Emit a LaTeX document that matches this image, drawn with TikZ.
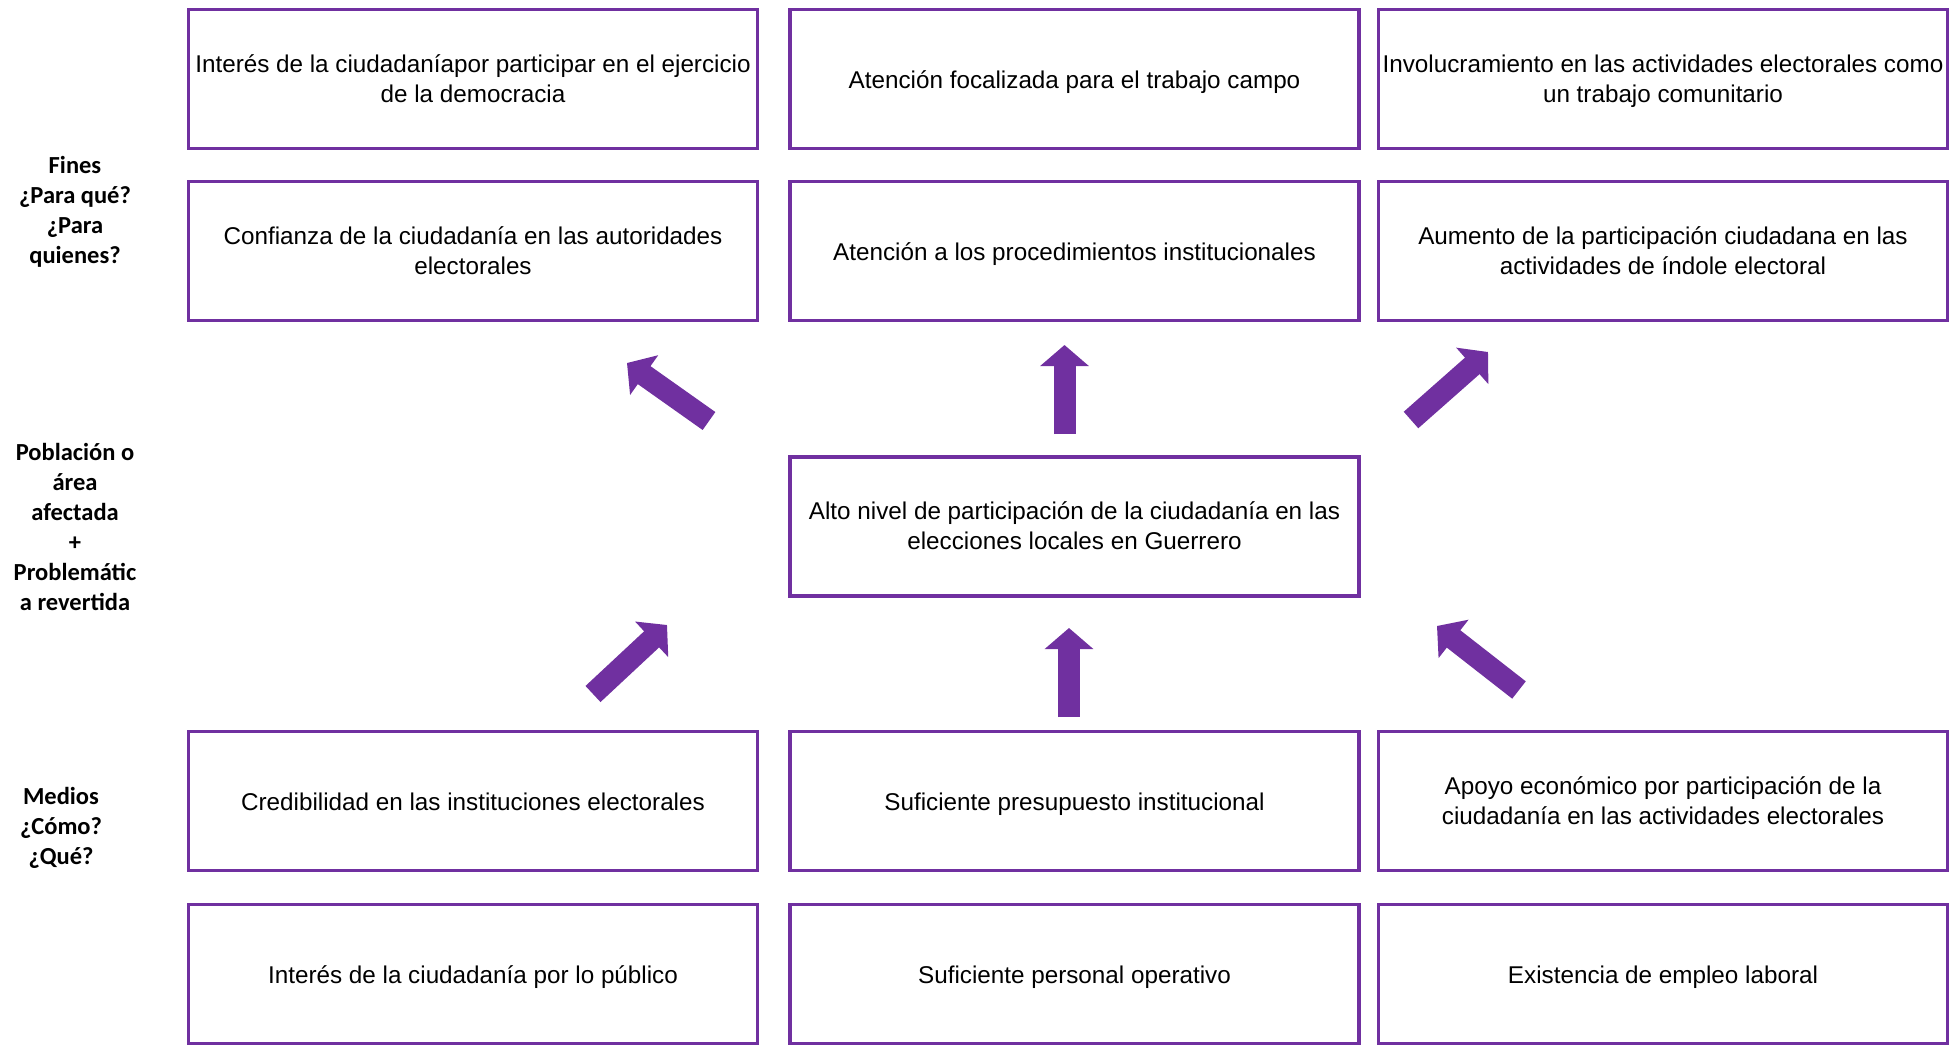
\documentclass[tikz,border=0pt]{standalone}
\usepackage{fontspec}
\setmainfont{Liberation Sans}
\newfontfamily\etiq{Carlito}
\usepackage{xcolor}
\usetikzlibrary{arrows.meta}
\definecolor{morado}{HTML}{7030A0}

\begin{document}
\begin{tikzpicture}[x=0.4pt,y=-0.4pt,
  caja/.style={draw=morado,line width=1.4pt,minimum width=227.6pt,minimum height=55.6pt,inner sep=0pt,align=center,text depth=0.5pt,font=\fontsize{9.7}{12}\selectfont},
  sencilla/.style={caja,text height=9pt,text depth=1.2pt},
  etiqueta/.style={align=center,font=\etiq\bfseries\fontsize{9.8}{12}\selectfont},
  flecha/.style={morado,line width=8.8pt,-{Triangle[length=8.4pt,width=19pt]}}]
\useasboundingbox (0,0) rectangle (1949,1047);
\node[caja] (f1) at (473,79) {Interés de la ciudadaníapor participar en el ejercicio\\de la democracia};
\node[sencilla] (f2) at (1074.5,79) {Atención focalizada para el trabajo campo};
\node[caja] (f3) at (1663,79) {Involucramiento en las actividades electorales como\\un trabajo comunitario};
\node[caja] (f4) at (473,251) {Confianza de la ciudadanía en las autoridades\\electorales};
\node[sencilla] (f5) at (1074.5,251) {Atención a los procedimientos institucionales};
\node[caja] (f6) at (1663,251) {Aumento de la participación ciudadana en las\\actividades de índole electoral};
\node[caja] (prob) at (1074.5,526.5) {Alto nivel de participación de la ciudadanía en las\\elecciones locales en Guerrero};
\node[sencilla] (m1) at (473,801) {Credibilidad en las instituciones electorales};
\node[sencilla] (m2) at (1074.5,801) {Suficiente presupuesto institucional};
\node[caja] (m3) at (1663,801) {Apoyo económico por participación de la\\ciudadanía en las actividades electorales};
\node[sencilla] (m4) at (473,974) {Interés de la ciudadanía por lo público};
\node[sencilla] (m5) at (1074.5,974) {Suficiente personal operativo};
\node[sencilla] (m6) at (1663,974) {Existencia de empleo laboral};
\node[etiqueta] (fines) at (75,211.5) {Fines\\¿Para qué?\\¿Para\\quienes?};
\node[etiqueta] (poblacion) at (75,527) {Población o\\área\\afectada\\+\\Problemátic\\a revertida};
\node[etiqueta] (medios) at (61,828) {Medios\\¿Cómo?\\¿Qué?};
\coordinate (s1) at (709,421);
\coordinate (e1) at (627,363);
\coordinate (s2) at (1064.5,434);
\coordinate (e2) at (1064.5,345);
\coordinate (s3) at (1411,420);
\coordinate (e3) at (1488,352);
\coordinate (s4) at (593,694);
\coordinate (e4) at (667,625);
\coordinate (s5) at (1069,717);
\coordinate (e5) at (1069,628);
\coordinate (s6) at (1519,690);
\coordinate (e6) at (1437,626);
\draw[flecha] (s1) -- (e1);
\draw[flecha] (s2) -- (e2);
\draw[flecha] (s3) -- (e3);
\draw[flecha] (s4) -- (e4);
\draw[flecha] (s5) -- (e5);
\draw[flecha] (s6) -- (e6);
\end{tikzpicture}
\end{document}
